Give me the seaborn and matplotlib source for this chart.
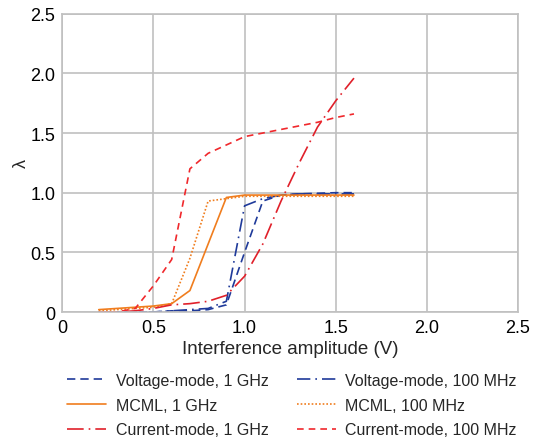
import numpy as np
import pandas as pd
import matplotlib
matplotlib.use("Agg")
import matplotlib.pyplot as plt
import seaborn as sns

amplitude = [0.2, 0.3, 0.4, 0.5, 0.6, 0.7, 0.8, 0.9, 1.0, 1.1, 1.2, 1.3, 1.4, 1.5, 1.6]
voltage_1ghz = [0.0, 0.0, 0.0, 0.0, 0.01, 0.01, 0.02, 0.06, 0.50, 0.93, 0.98, 0.99, 0.995, 1.0, 1.0]
voltage_100mhz = [0.0, 0.0, 0.0, 0.0, 0.01, 0.02, 0.03, 0.09, 0.89, 0.95, 0.98, 0.99, 0.99, 0.99, 0.99]
mcml_1ghz = [0.02, 0.03, 0.04, 0.05, 0.07, 0.18, 0.57, 0.96, 0.98, 0.98, 0.98, 0.98, 0.98, 0.98, 0.98]
mcml_100mhz = [0.01, 0.02, 0.03, 0.04, 0.07, 0.45, 0.93, 0.95, 0.97, 0.97, 0.97, 0.97, 0.97, 0.97, 0.97]
current_1ghz = [0.0, 0.0, 0.01, 0.03, 0.06, 0.07, 0.09, 0.14, 0.30, 0.57, 0.93, 1.25, 1.55, 1.77, 1.96]
current_100mhz = [0.0, 0.0, 0.03, 0.22, 0.44, 1.20, 1.33, 1.40, 1.47, 1.50, 1.53, 1.56, 1.59, 1.63, 1.66]

series_names = ["Voltage-mode, 1 GHz", "Voltage-mode, 100 MHz", "MCML, 1 GHz",
                "MCML, 100 MHz", "Current-mode, 1 GHz", "Current-mode, 100 MHz"]
series_values = [voltage_1ghz, voltage_100mhz, mcml_1ghz, mcml_100mhz, current_1ghz, current_100mhz]
x_ticks = [0, 0.5, 1.0, 1.5, 2.0, 2.5]
x_tick_labels = ["0", "0.5", "1.0", "1.5", "2.0", "2.5"]
y_ticks = [0, 0.5, 1.0, 1.5, 2.0, 2.5]
y_tick_labels = ["0", "0.5", "1.0", "1.5", "2.0", "2.5"]

colors = ["#1f3a9a", "#1f3a9a", "#f07d1e", "#f07d1e", "#e0202a", "#f0282c"]
dashes = [(5, 3), (8, 3, 1, 3), "", (1, 1.2), (10, 3, 1, 3), (4, 3)]

frames = []
for name, vals in zip(series_names, series_values):
    frames.append(pd.DataFrame({"amplitude": amplitude, "lambda": vals, "series": name}))
df = pd.concat(frames, ignore_index=True)

sns.set_style("white")
plt.rcParams["font.family"] = ["Liberation Sans", "DejaVu Sans"]

fig = plt.figure(figsize=(5.33, 4.39), dpi=100)
ax = fig.add_axes([0.1169, 0.287, 0.855, 0.6795])

sns.lineplot(data=df, x="amplitude", y="lambda", hue="series", style="series",
             hue_order=series_names, style_order=series_names,
             palette=colors, dashes=dashes, linewidth=1.2, ax=ax, legend=True, sort=False)

ax.set_xlim(0, 2.5)
ax.set_ylim(0, 2.5)
ax.set_xticks(x_ticks)
ax.set_xticklabels(x_tick_labels)
ax.set_yticks(y_ticks)
ax.set_yticklabels(y_tick_labels)
ax.grid(True, color="#c0c0c0", linewidth=1.2)
ax.set_axisbelow(True)
for s in ax.spines.values():
    s.set_color("#c0c0c0")
    s.set_linewidth(1.2)
ax.tick_params(axis="both", length=0, labelsize=13, pad=5, colors="black")
ax.set_xlabel("Interference amplitude (V)", fontsize=13.5, labelpad=3)
ax.set_ylabel("λ", fontsize=13, labelpad=0)

handles, labels = ax.get_legend_handles_labels()
ax.get_legend().remove()
order = [0, 2, 4, 1, 3, 5]
fig.legend([handles[i] for i in order], [labels[i] for i in order],
           loc="upper left", bbox_to_anchor=(0.126, 0.148),
           ncol=2, frameon=False, fontsize=11.5, handlelength=2.45, handletextpad=0.6,
           columnspacing=1.75, labelspacing=0.6, borderaxespad=0, borderpad=0)

fig.savefig("out.png", dpi=100)
